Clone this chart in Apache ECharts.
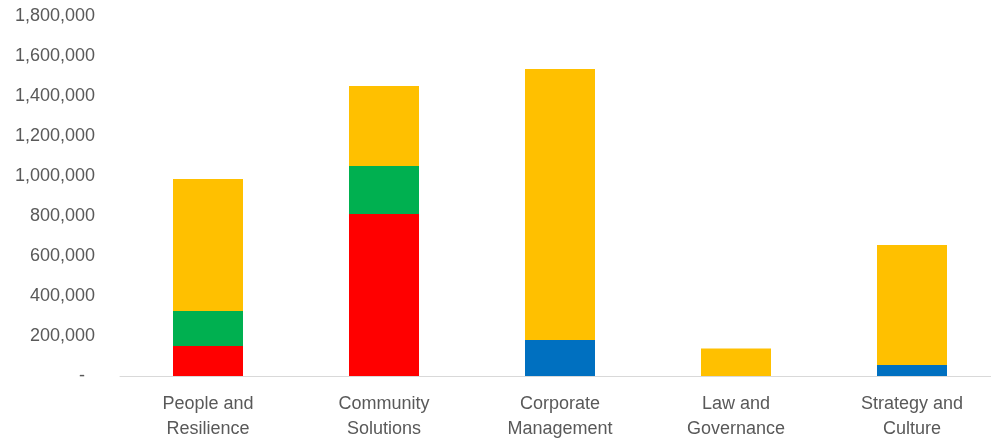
<!DOCTYPE html>
<html>
<head>
<meta charset="utf-8">
<script src="https://cdn.jsdelivr.net/npm/echarts@6/dist/echarts.min.js"></script>
<style>html,body{margin:0;padding:0;background:#fff;overflow:hidden;width:991px;height:442px}#c{width:1000px;height:442px}</style>
</head>
<body>
<div id="c"></div>
<script>
const categories = ["People and\nResilience", "Community\nSolutions", "Corporate\nManagement", "Law and\nGovernance", "Strategy and\nCulture"];
const redValues = [150000, 810000, 0, 0, 0];
const greenValues = [175000, 240000, 0, 0, 0];
const blueValues = [0, 0, 180000, 0, 55000];
const yellowValues = [660000, 400000, 1355000, 137000, 600000];

const chart = echarts.init(document.getElementById('c'), null, {renderer: 'canvas'});
const font = '"Liberation Sans", Arial, sans-serif';
function mk(name, data, color) {
  return {name, type: 'bar', stack: 'total', data, barWidth: 70,
    itemStyle: {color}, emphasis: {disabled: true}, animation: false};
}
chart.setOption({
  animation: false,
  grid: {left: 120, top: 16, right: 0, height: 360, containLabel: false},
  xAxis: {
    type: 'category', data: categories,
    axisLine: {lineStyle: {color: '#d9d9d9', width: 1}},
    axisTick: {show: false},
    axisLabel: {color: '#595959', fontFamily: font, fontSize: 18, lineHeight: 25, margin: 16, interval: 0}
  },
  yAxis: {
    type: 'value', min: 0, max: 1800000, interval: 200000,
    splitLine: {show: false},
    axisLine: {show: false}, axisTick: {show: false},
    axisLabel: {color: '#595959', fontFamily: font, fontSize: 18, margin: 25,
      formatter: v => v === 0 ? '-  ' : v.toLocaleString('en-US')}
  },
  series: [
    mk('Red', redValues, '#ff0000'),
    mk('Green', greenValues, '#00b050'),
    mk('Blue', blueValues, '#0070c0'),
    mk('Yellow', yellowValues, '#ffc000')
  ]
});
</script>
</body>
</html>
